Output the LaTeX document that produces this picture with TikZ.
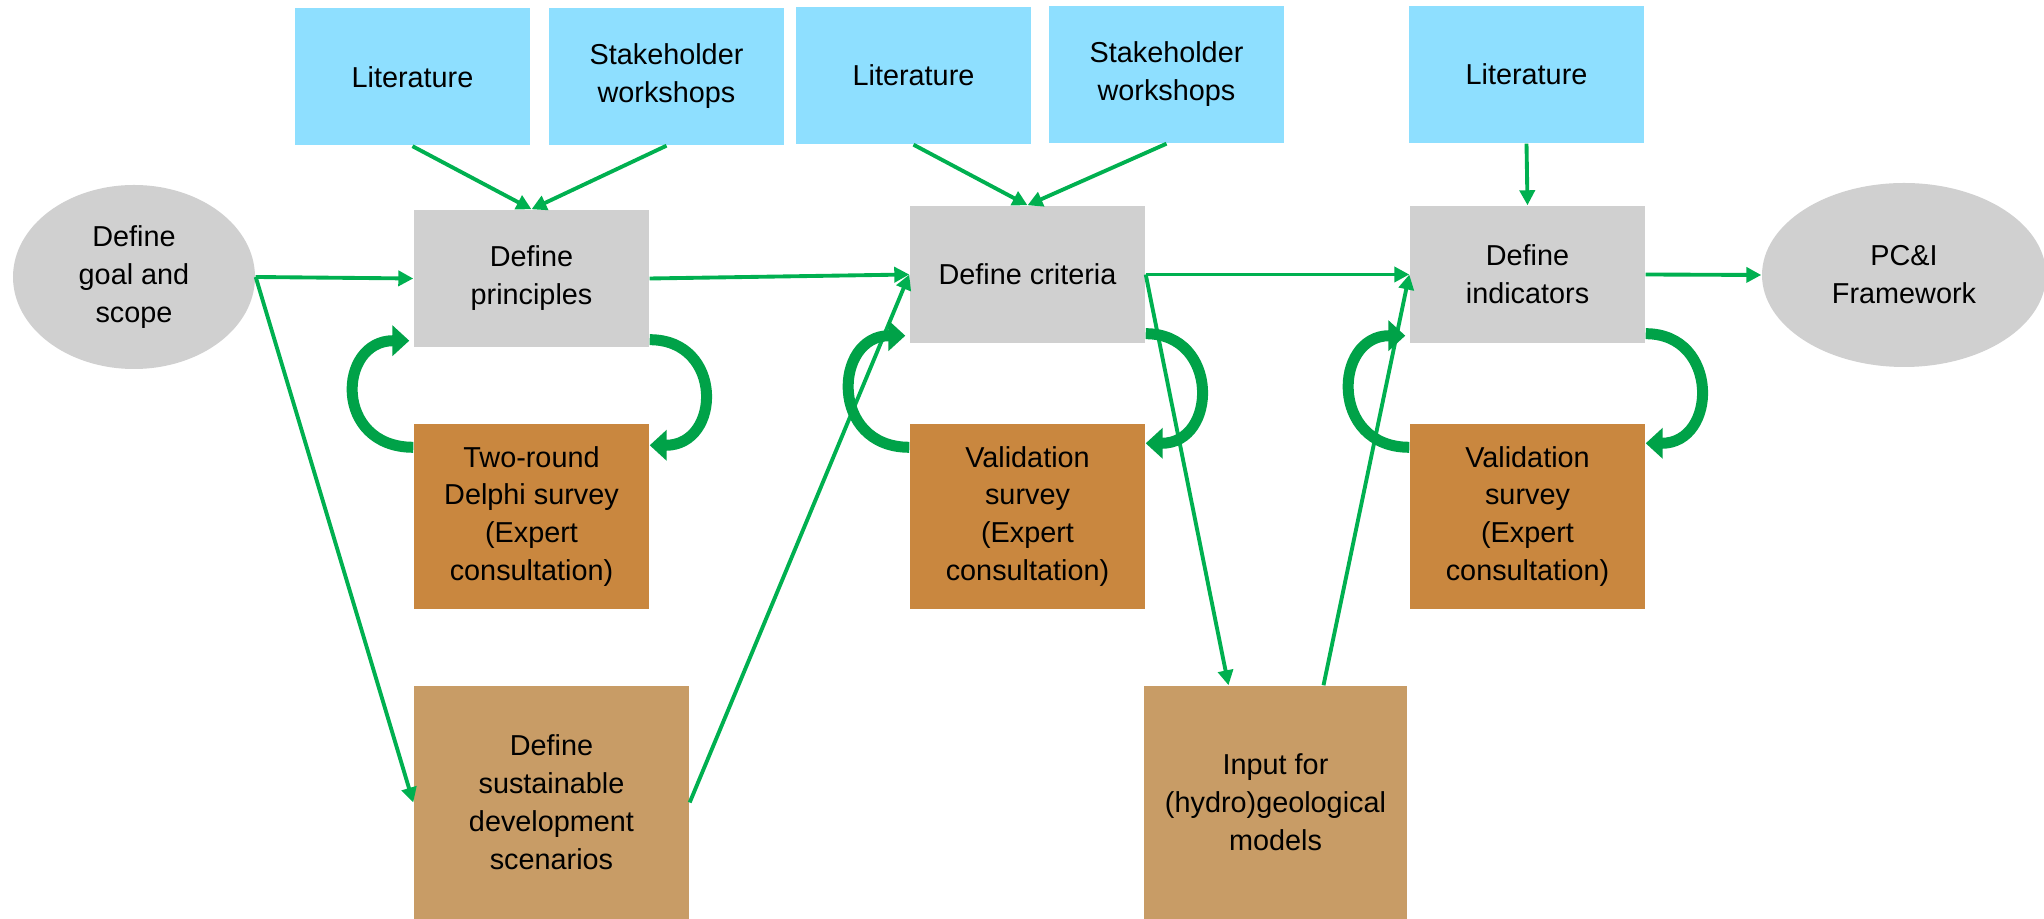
\documentclass[tikz,border=0pt]{standalone}
\usepackage{fontspec}
\setmainfont{Liberation Sans}
\usepackage{xcolor}
\usepackage{tikz}
\usetikzlibrary{arrows.meta,shapes.geometric}
\definecolor{srcblue}{HTML}{8EDFFF}
\definecolor{boxgrey}{HTML}{D0D0D0}
\definecolor{surveyorange}{HTML}{C9873F}
\definecolor{sidetan}{HTML}{C89C66}
\definecolor{flowgreen}{HTML}{00B050}
\definecolor{loopgreen}{HTML}{00A248}
\tikzset{source/.style={fill=srcblue, inner sep=0pt, minimum width=2.35cm, minimum height=1.37cm, align=center}}
\tikzset{task/.style={fill=boxgrey, inner sep=0pt, minimum width=2.35cm, minimum height=1.37cm, align=center}}
\tikzset{survey/.style={fill=surveyorange, inner sep=0pt, minimum width=2.35cm, minimum height=1.85cm, align=center}}
\tikzset{side/.style={fill=sidetan, inner sep=0pt, minimum height=2.33cm, align=center}}
\tikzset{oval/.style={fill=boxgrey, ellipse, inner sep=0pt, minimum height=1.84cm, align=center}}
\tikzset{flow/.style={draw=flowgreen, line width=1.1pt, -{Triangle[length=0.15cm, width=0.15cm]}}}
\tikzset{feedback/.style={draw=loopgreen, line width=0.11cm, -{Triangle[length=0.17cm, width=0.3cm]}}}

\begin{document}
\begin{tikzpicture}[font=\fontsize{8.2}{10.8}\selectfont]
	\useasboundingbox (0,0) rectangle (20.44,-9.19);
	\node[source] (L1) at (4.125,-0.77) {Literature};
	\node[source] (S1) at (6.665,-0.765) {Stakeholder\\workshops};
	\node[source] (L2) at (9.135,-0.755) {Literature};
	\node[source] (S2) at (11.665,-0.745) {Stakeholder\\workshops};
	\node[source] (L3) at (15.265,-0.745) {Literature};
	
	\node[oval, minimum width=2.42cm] (G) at (1.34,-2.77) {Define\\goal and\\scope};
	\node[task] (P) at (5.315,-2.785) {Define\\principles};
	\node[task] (C) at (10.275,-2.745) {Define criteria};
	\node[task] (I) at (15.275,-2.745) {Define\\indicators};
	\node[oval, minimum width=2.84cm] (F) at (19.04,-2.75) {PC\&I\\Framework};
	
	\node[survey] (D) at (5.315,-5.165) {Two-round\\Delphi survey\\(Expert\\consultation)};
	\node[survey] (V1) at (10.275,-5.165) {Validation\\survey\\(Expert\\consultation)};
	\node[survey] (V2) at (15.275,-5.165) {Validation\\survey\\(Expert\\consultation)};
	
	\node[side, minimum width=2.75cm] (SC) at (5.515,-8.025) {Define\\sustainable\\development\\scenarios};
	\node[side, minimum width=2.63cm] (M) at (12.755,-8.025) {Input for\\(hydro)geological\\models};
	
	\draw[flow] (L1.south) -- (P.north);
	\draw[flow] (S1.south) -- (P.north);
	\draw[flow] (L2.south) -- (C.north);
	\draw[flow] (S2.south) -- (C.north);
	\draw[flow] (L3.south) -- (I.north);
	\draw[flow] (G.east) -- (P.west);
	\draw[flow] (G.east) -- (SC.west);
	\draw[flow] (P.east) -- (C.west);
	\draw[flow] (SC.east) -- (C.west);
	\draw[flow] (C.east) -- (I.west);
	\draw[flow] (C.east) -- ([xshift=-0.47cm]M.north);
	\draw[flow] ([xshift=0.48cm]M.north) -- (I.west);
	\draw[flow] (I.east) -- (F.west);
	
	\draw[feedback] ([yshift=-0.24cm]D.north west) .. controls +(-0.8,0) and +(-0.72,0) .. ([xshift=-0.04cm, yshift=0.07cm]P.south west);
	\draw[feedback] ([yshift=0.08cm]P.south east) .. controls +(0.74,0) and +(0.72,0) .. ([yshift=-0.22cm]D.north east);
	\draw[feedback] ([yshift=-0.24cm]V1.north west) .. controls +(-0.8,0) and +(-0.72,0) .. ([xshift=-0.04cm, yshift=0.08cm]C.south west);
	\draw[feedback] ([yshift=0.1cm]C.south east) .. controls +(0.74,0) and +(0.72,0) .. ([yshift=-0.2cm]V1.north east);
	\draw[feedback] ([yshift=-0.24cm]V2.north west) .. controls +(-0.8,0) and +(-0.72,0) .. ([xshift=-0.04cm, yshift=0.08cm]I.south west);
	\draw[feedback] ([yshift=0.1cm]I.south east) .. controls +(0.74,0) and +(0.72,0) .. ([yshift=-0.2cm]V2.north east);
\end{tikzpicture}
\end{document}
